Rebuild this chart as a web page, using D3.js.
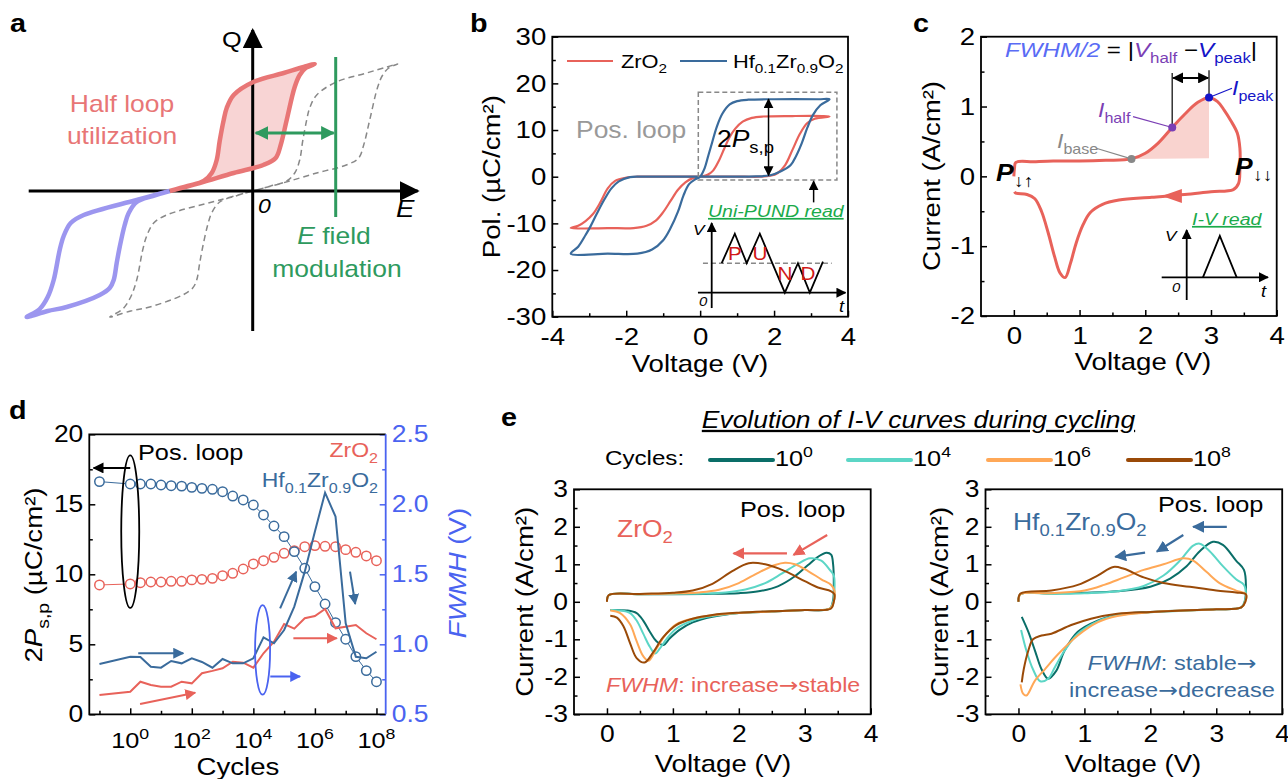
<!DOCTYPE html>
<html lang="en">
<head>
<meta charset="UTF-8">
<title>Half-loop FWHM figure</title>
<script src="https://d3js.org/d3.v7.min.js"></script>
<style>
  body { margin: 0; background: #fff; }
  svg text { font-family: Arial, "Liberation Sans", "DejaVu Sans", sans-serif; }
</style>
</head>
<body>
<svg width="1288" height="779"></svg>
<script>
// ---------------- data ----------------
// panel a : schematic loop (E, Q arbitrary units)
const aRedUp   = [[-8.3,0],[-5.3,0.8],[-1.9,1.8],[1.06,2.6],[2.3,3.3],[2.8,4.6],[3.4,7.1],[4.2,10.4],[4.7,11.6],[5.3,12.3],[6.2,12.7]];
const aRedDown = [[6.2,12.7],[5.1,12.4],[3.1,11.8],[0.06,10.9],[-1.9,9.6],[-2.6,8.3],[-2.9,7.1],[-3.3,5.0],[-3.6,3.1],[-4.1,1.8],[-4.9,1.0],[-6.5,0.5],[-8.3,0]];
const aPurDown = [[-8.3,0],[-11.6,-0.9],[-16.9,-2.4],[-18.2,-3.2],[-18.9,-4.5],[-19.3,-5.9],[-19.9,-8.9],[-20.5,-10.6],[-21.3,-11.8],[-22.6,-12.6]];
const aPurUp   = [[-22.6,-12.6],[-20.5,-12.0],[-18.6,-11.6],[-15.3,-10.4],[-14.3,-9.7],[-13.9,-8.9],[-13.6,-7.2],[-13.3,-5.6],[-12.8,-3.4],[-12.4,-2.2],[-11.6,-1.1],[-10.0,-0.5],[-8.3,0]];
const aShift = 8.3;          // modulated loop offset
const aFieldE = 8.3;         // E field line
const aFieldQ = [-2.6, 13.4];
const aArrowQ = 5.8;
const aAxisE = [-22.4, 16.5];
const aAxisQ = [-14, 16.1];

// panel b : P-V loops (V, uC/cm2)
const bZrO2 = [[0,0],[0.6,0],[1.2,0],[1.6,0],[1.9,0.2],[2.1,0.8],[2.3,2.5],[2.5,5.8],[2.7,9.2],[2.9,11.5],[3.1,12.4],[3.5,12.9],
  [3.3,13],[2.5,13],[1.7,12.9],[1.4,12.6],[1.15,11.8],[0.95,10.3],[0.8,8.5],[0.65,6.0],[0.5,3.3],[0.35,1.3],[0.2,0.4],[0,0],
  [-0.2,-0.3],[-0.4,-1.2],[-0.6,-2.8],[-0.8,-5.2],[-1.0,-7.6],[-1.2,-9.4],[-1.45,-10.5],[-1.8,-11],[-2.5,-11],[-3.5,-11],
  [-3.3,-10.5],[-3.1,-9.5],[-2.9,-8],[-2.7,-5.5],[-2.5,-2.5],[-2.3,-0.9],[-2.0,-0.2],[-1.7,0],[-1,0],[0,0]];
const bHZO = [[0,0],[0.8,0],[1.5,0.05],[1.9,0.3],[2.2,1.2],[2.45,2.5],[2.6,4.5],[2.75,7.2],[2.9,10.5],[3.05,13.2],[3.25,15.3],[3.5,16.6],
  [3.2,16.6],[2.0,16.6],[1.3,16.5],[1.0,16.2],[0.8,15.5],[0.6,13.5],[0.45,10.7],[0.33,7.5],[0.22,4.5],[0.12,1.8],[0,0],
  [-0.12,-0.5],[-0.3,-1.6],[-0.45,-4],[-0.6,-7.5],[-0.8,-11],[-1.0,-13.6],[-1.3,-15.6],[-1.7,-16.5],[-2.5,-16.5],[-3.5,-16.5],
  [-3.3,-15],[-3.1,-12.5],[-2.97,-10.7],[-2.8,-8],[-2.6,-5],[-2.4,-2.5],[-2.2,-1],[-1.9,-0.1],[-1.6,0],[-0.8,0],[0,0]];
const bBoxV = [-0.05, 3.7], bBoxP = [-0.7, 18.1];
const bPspV = 1.85, bPspP = [0.3, 16.6];
const bReadV = 3.07, bReadP = [-5.5, -1.0];
// PUND pulse inset (t, V arbitrary)
const pundT = [0.8, 1.85, 2.8, 3.85, 5.85, 6.9, 7.85, 8.9];
const pundV = [1, 2, 1, 2, 0, 1, 0, 1.05];
const pundLbl = ["P", "U", "N", "D"];
const pundLblT = [1.86, 3.86, 5.86, 7.7];
const pundLblV = [1.1, 1.1, 0.43, 0.43];

// panel c : single I-V read (V, A/cm2)
const cIV = [[0,0],[0.01,0.12],[0.03,0.2],[0.3,0.21],[0.6,0.22],[1.0,0.22],[1.4,0.23],[1.79,0.25],[2.0,0.33],[2.2,0.48],[2.41,0.70],
  [2.6,0.89],[2.8,1.06],[2.97,1.13],[3.1,1.07],[3.2,0.95],[3.3,0.8],[3.4,0.62],[3.44,0.4],[3.44,0.1],[3.42,-0.1],[3.34,-0.19],
  [3.0,-0.22],[2.6,-0.26],[2.1,-0.3],[1.6,-0.34],[1.35,-0.4],[1.16,-0.52],[1.05,-0.7],[0.95,-0.95],[0.86,-1.25],[0.78,-1.45],
  [0.7,-1.38],[0.62,-1.15],[0.52,-0.8],[0.42,-0.5],[0.32,-0.32],[0.2,-0.26],[0.03,-0.24],[0.01,-0.22]];
const cShade = [[1.79,0.25],[2.0,0.33],[2.2,0.48],[2.41,0.70],[2.6,0.89],[2.8,1.06],[2.97,1.13],[2.97,0.26]];
const cBase = [1.79, 0.25], cHalf = [2.41, 0.70], cPeak = [2.97, 1.13];
const cArrow = [2.42, -0.28];
const pulseCT = [1.3, 2.65, 4.0], pulseCV = [0, 1.4, 0];

// panel d : endurance (log10 cycles)
const dLog = [-1,0,0.33,0.67,1,1.33,1.67,2,2.33,2.67,3,3.33,3.67,4,4.33,4.67,5,5.33,5.67,6,6.33,6.67,7,7.33,7.67,8];
const dPspZr = [9.24,9.31,9.4,9.45,9.45,9.5,9.5,9.6,9.64,9.71,9.9,10.07,10.38,10.74,10.97,11.21,11.5,11.69,11.97,12.05,12.0,11.97,11.76,11.57,11.31,10.97];
const dPspHzo = [16.62,16.45,16.45,16.45,16.38,16.33,16.3,16.21,16.14,16.07,15.9,15.59,15.31,14.95,14.24,13.45,12.69,11.62,10.43,9.12,7.88,6.55,5.36,4.12,3.12,2.33];
const dFwhmZr = [0.638,0.661,0.733,0.709,0.697,0.697,0.733,0.721,0.793,0.81,0.829,0.876,0.869,0.833,0.936,1.019,1.145,1.112,1.186,1.202,1.252,1.114,1.126,1.138,1.079,1.036];
const dFwhmHzo = [0.859,0.911,0.909,0.84,0.833,0.881,0.864,0.9,0.874,0.833,0.895,0.864,0.864,0.9,1.05,1.007,1.102,1.269,1.519,1.805,2.083,1.912,1.15,0.911,0.9,0.947];

// panel e : I-V curves vs cycling
const eCycles = ["0", "4", "6", "8"];
const eZr = [
  [[0,0],[0.03,0.18],[0.5,0.2],[1.0,0.2],[1.5,0.21],[2.0,0.23],[2.3,0.28],[2.6,0.42],[2.85,0.68],[3.05,0.98],[3.2,1.2],[3.33,1.31],[3.4,1.26],[3.43,1.0],[3.44,0.5],[3.43,0.05],[3.38,-0.18],[3.0,-0.22],[2.5,-0.26],[2.0,-0.3],[1.6,-0.4],[1.3,-0.55],[1.1,-0.75],[0.95,-0.98],[0.86,-1.15],[0.75,-1.05],[0.65,-0.8],[0.55,-0.5],[0.45,-0.3],[0.3,-0.23],[0.05,-0.22]],
  [[0,0],[0.03,0.18],[0.5,0.2],[1.0,0.21],[1.5,0.22],[1.8,0.25],[2.1,0.33],[2.4,0.5],[2.65,0.75],[2.9,1.02],[3.08,1.16],[3.25,1.1],[3.38,0.85],[3.44,0.7],[3.45,0.3],[3.43,0.0],[3.38,-0.18],[3.0,-0.22],[2.5,-0.26],[2.0,-0.3],[1.6,-0.38],[1.3,-0.5],[1.05,-0.72],[0.9,-1.0],[0.8,-1.25],[0.73,-1.38],[0.65,-1.2],[0.55,-0.85],[0.45,-0.5],[0.35,-0.3],[0.2,-0.23],[0.05,-0.22]],
  [[0,0],[0.03,0.18],[0.5,0.2],[1.0,0.22],[1.4,0.25],[1.7,0.32],[2.0,0.5],[2.3,0.78],[2.55,0.98],[2.7,1.04],[2.85,1.0],[3.05,0.82],[3.25,0.6],[3.4,0.45],[3.45,0.3],[3.44,0.0],[3.38,-0.18],[3.0,-0.22],[2.5,-0.26],[2.0,-0.3],[1.6,-0.36],[1.3,-0.45],[1.05,-0.6],[0.9,-0.85],[0.75,-1.25],[0.63,-1.57],[0.55,-1.45],[0.45,-1.05],[0.35,-0.6],[0.2,-0.3],[0.05,-0.23]],
  [[0,0],[0.03,0.18],[0.5,0.21],[1.0,0.24],[1.3,0.3],[1.6,0.48],[1.9,0.82],[2.15,1.03],[2.4,1.0],[2.7,0.82],[3.0,0.55],[3.2,0.38],[3.4,0.28],[3.45,0.2],[3.44,0.0],[3.4,-0.18],[3.0,-0.22],[2.5,-0.25],[2.0,-0.29],[1.6,-0.35],[1.3,-0.45],[1.05,-0.62],[0.85,-0.95],[0.7,-1.35],[0.57,-1.62],[0.45,-1.5],[0.35,-1.1],[0.25,-0.65],[0.15,-0.42],[0.05,-0.37]]
];
const eHzo = [
  [[0,0],[0.03,0.2],[0.5,0.22],[1.0,0.24],[1.5,0.28],[2.0,0.4],[2.3,0.62],[2.55,0.95],[2.75,1.35],[2.95,1.6],[3.1,1.52],[3.3,1.1],[3.42,0.85],[3.45,0.4],[3.43,0.0],[3.38,-0.15],[3.0,-0.2],[2.5,-0.23],[2.0,-0.27],[1.5,-0.35],[1.2,-0.5],[0.9,-0.8],[0.7,-1.3],[0.57,-1.85],[0.45,-2.05],[0.35,-1.8],[0.25,-1.3],[0.15,-0.8],[0.05,-0.4]],
  [[0,0],[0.03,0.2],[0.5,0.21],[1.0,0.23],[1.5,0.28],[1.9,0.42],[2.2,0.7],[2.45,1.1],[2.65,1.5],[2.75,1.55],[2.9,1.35],[3.1,0.95],[3.3,0.6],[3.42,0.45],[3.45,0.2],[3.43,0.0],[3.38,-0.15],[3.0,-0.2],[2.5,-0.24],[2.0,-0.28],[1.5,-0.36],[1.2,-0.52],[0.9,-0.85],[0.7,-1.3],[0.55,-1.75],[0.45,-2.05],[0.33,-2.12],[0.22,-1.8],[0.12,-1.3],[0.04,-0.75]],
  [[0,0],[0.03,0.2],[0.5,0.23],[1.0,0.3],[1.3,0.45],[1.6,0.65],[1.9,0.85],[2.2,1.0],[2.5,1.16],[2.65,1.1],[2.85,0.8],[3.05,0.5],[3.3,0.3],[3.45,0.2],[3.44,0.0],[3.38,-0.15],[3.0,-0.2],[2.5,-0.23],[2.0,-0.28],[1.5,-0.38],[1.2,-0.55],[0.9,-0.9],[0.6,-1.4],[0.4,-1.8],[0.25,-2.1],[0.12,-2.5],[0.07,-2.45],[0.03,-2.2]],
  [[0,0],[0.03,0.22],[0.5,0.3],[0.9,0.45],[1.2,0.7],[1.44,0.93],[1.6,0.88],[1.9,0.65],[2.2,0.5],[2.6,0.4],[3.0,0.3],[3.3,0.25],[3.45,0.2],[3.44,0.0],[3.38,-0.15],[3.0,-0.2],[2.5,-0.23],[2.0,-0.27],[1.5,-0.32],[1.1,-0.45],[0.8,-0.62],[0.5,-0.85],[0.35,-0.9],[0.22,-1.0],[0.15,-1.3],[0.08,-1.8],[0.05,-2.15]]
];

// ---------------- style ----------------
const RED = "#e8625a", HZO = "#3a6b9c", AXB = "#4a63f0";
const eColors = ["#0a6e68", "#5cd6c6", "#ffa857", "#9a4a08"];
const SX = 1.15;   // the source font runs wider than Arial
const fmt = d => String(d);

const svg = d3.select("svg");
const defs = svg.append("defs");
const made = {};
function mk(color, size) {
  const id = "m" + color.replace("#", "") + "_" + size;
  if (!made[id]) {
    made[id] = 1;
    defs.append("marker").attr("id", id).attr("viewBox", "0 0 10 10")
      .attr("refX", 9).attr("refY", 5).attr("markerUnits", "userSpaceOnUse")
      .attr("markerWidth", size).attr("markerHeight", size)
      .attr("orient", "auto-start-reverse")
      .append("path").attr("d", "M0,0L10,5L0,10z").attr("fill", color);
  }
  return `url(#${id})`;
}
function arrow(g, x0, y0, x1, y1, color, w, size, both) {
  const l = g.append("line").attr("x1", x0).attr("y1", y0).attr("x2", x1).attr("y2", y1)
    .attr("stroke", color).attr("stroke-width", w).attr("marker-end", mk(color, size));
  if (both) l.attr("marker-start", mk(color, size));
  return l;
}
// text with sub / superscripts
function rich(g, x, y, parts, o) {
  o = o || {};
  const fs = o.fs || 20;
  const t = g.append("text").attr("x", x).attr("y", y).attr("font-size", fs)
    .attr("fill", o.fill || "#000").attr("text-anchor", o.anchor || "start");
  if (o.rot) t.attr("transform", `rotate(-90,${x},${y})`);
  if (o.italic) t.attr("font-style", "italic");
  if (o.bold) t.attr("font-weight", "bold");
  if (o.under) t.style("text-decoration", "underline");
  let prev = 0;
  parts.forEach(p => {
    if (typeof p === "string") p = { t: p };
    const shift = p.sub ? 0.28 * fs : p.sup ? -0.42 * fs : 0;
    const s = t.append("tspan").text(p.t).attr("dy", shift - prev);
    prev = shift;
    if (p.sub || p.sup) s.attr("font-size", (p.fs || 0.7) * fs);
    if (p.i) s.attr("font-style", "italic");
    if (p.b) s.attr("font-weight", "bold");
    if (p.fill) s.attr("fill", p.fill);
    if (p.ff) s.style("font-family", p.ff);
  });
  return t;
}
const ARR = { t: "→", ff: "DejaVu Sans" };
const hzoParts = ["Hf", { t: "0.1", sub: 1 }, "Zr", { t: "0.9", sub: 1 }, "O", { t: "2", sub: 1 }];
const zrParts = ["ZrO", { t: "2", sub: 1 }];

// boxed axes with inward ticks
function boxAxes(g, x, y, o) {
  const [x0, x1] = x.range(), [yb, yt] = y.range();
  const fs = o.fs || 24;
  const gx = g.append("g").attr("transform", `translate(0,${yb})`)
    .call(d3.axisBottom(x).tickValues(o.xMajor).tickSize(-6).tickPadding(o.xPad || 11).tickFormat(o.xFmt || fmt));
  gx.append("g").call(d3.axisBottom(x).tickValues(o.xMinor).tickSize(-3.5).tickFormat(""));
  const gy = g.append("g").attr("transform", `translate(${x0},0)`)
    .call(d3.axisLeft(y).tickValues(o.yMajor).tickSize(-6).tickPadding(6).tickFormat(o.yFmt || fmt));
  gy.append("g").call(d3.axisLeft(y).tickValues(o.yMinor).tickSize(-3.5).tickFormat(""));
  [gx, gy].forEach(a => {
    a.selectAll(".domain").remove();
    a.selectAll("line").attr("stroke-width", 1.5);
    a.selectAll("text").attr("font-size", fs).attr("fill", "#000");
  });
  g.append("rect").attr("x", x0).attr("y", yt).attr("width", x1 - x0).attr("height", yb - yt)
    .attr("fill", "none").attr("stroke", "#000").attr("stroke-width", 1.8);
  return { gx, gy };
}
const lineOf = (x, y, curve) => d3.line().x(d => x(d[0])).y(d => y(d[1])).curve(curve || d3.curveCatmullRom.alpha(0.5));

// panel letters
[["a", 10, 32], ["b", 470, 32], ["c", 913, 32], ["d", 9, 419], ["e", 501, 426]].forEach(([t, x, y]) =>
  svg.append("text").attr("x", x).attr("y", y).attr("font-size", 25).attr("font-weight", "bold").text(t));

// ================= panel a =================
{
  const g = svg.append("g");
  const xa = d3.scaleLinear().domain([-10, 10]).range([152.7, 352.7]);
  const ya = d3.scaleLinear().domain([-10, 10]).range([291, 91]);
  const la = lineOf(xa, ya);
  const shifted = aPurDown.concat(aPurUp.slice(1), aRedUp.slice(1), aRedDown.slice(1)).map(d => [d[0] + aShift, d[1]]);
  g.append("path").attr("d", la(shifted)).attr("fill", "none").attr("stroke", "#888")
    .attr("stroke-width", 1.5).attr("stroke-dasharray", "6,4");
  g.append("path").attr("d", la(aRedUp.concat(aRedDown.slice(1)))).attr("fill", "#f8d4d4").attr("stroke", "none");
  // axes
  arrow(g, xa(aAxisE[0]), ya(0), xa(aAxisE[1]), ya(0), "#000", 3, 20);
  arrow(g, xa(0), ya(aAxisQ[0]), xa(0), ya(aAxisQ[1]), "#000", 3, 20);
  g.append("path").attr("d", la(aRedUp.concat(aRedDown.slice(1)))).attr("fill", "none")
    .attr("stroke", "#e87676").attr("stroke-width", 4.5).attr("stroke-linejoin", "round");
  g.append("path").attr("d", la(aPurDown.concat(aPurUp.slice(1)))).attr("fill", "none")
    .attr("stroke", "#9c96ef").attr("stroke-width", 4.5).attr("stroke-linejoin", "round");
  g.append("line").attr("x1", xa(aFieldE)).attr("x2", xa(aFieldE)).attr("y1", ya(aFieldQ[0])).attr("y2", ya(aFieldQ[1]))
    .attr("stroke", "#2e9a5e").attr("stroke-width", 3);
  arrow(g, xa(0.3), ya(aArrowQ), xa(aFieldE - 0.2), ya(aArrowQ), "#2e9a5e", 3, 14, true);
  g.append("text").attr("x", 222).attr("y", 47).attr("font-size", 22).text("Q");
  g.append("text").attr("x", 396).attr("y", 217).attr("font-size", 24).attr("font-style", "italic").text("E");
  g.append("text").attr("x", 258).attr("y", 213).attr("font-size", 20).attr("font-style", "italic").text("0");
  g.append("text").attr("x", 122).attr("y", 112).attr("font-size", 23).attr("fill", "#e87676").attr("text-anchor", "middle").text("Half loop");
  g.append("text").attr("x", 122).attr("y", 144).attr("font-size", 23).attr("fill", "#e87676").attr("text-anchor", "middle").text("utilization");
  rich(g, 334, 244, [{ t: "E", i: 1 }, " field"], { fs: 23, fill: "#2e9a5e", anchor: "middle" });
  g.append("text").attr("x", 337).attr("y", 277).attr("font-size", 23).attr("fill", "#2e9a5e").attr("text-anchor", "middle").text("modulation");
}

// ================= panel b =================
{
  const g = svg.append("g");
  const xb = d3.scaleLinear().domain([-4, 4]).range([552.3, 848]);
  const yb = d3.scaleLinear().domain([-30, 30]).range([316.7, 36.7]);
  boxAxes(g, xb, yb, { xMajor: [-4, -2, 0, 2, 4], xMinor: [-3, -1, 1, 3],
    yMajor: [-30, -20, -10, 0, 10, 20, 30], yMinor: [-25, -15, -5, 5, 15, 25] });
  const lb = lineOf(xb, yb);
  g.append("path").attr("d", lb(bZrO2)).attr("fill", "none").attr("stroke", RED).attr("stroke-width", 2.2);
  g.append("path").attr("d", lb(bHZO)).attr("fill", "none").attr("stroke", HZO).attr("stroke-width", 2.2);
  // dashed box + annotations
  g.append("rect").attr("x", xb(bBoxV[0])).attr("y", yb(bBoxP[1])).attr("width", xb(bBoxV[1]) - xb(bBoxV[0]))
    .attr("height", yb(bBoxP[0]) - yb(bBoxP[1])).attr("fill", "none").attr("stroke", "#888")
    .attr("stroke-width", 1.5).attr("stroke-dasharray", "5,3");
  arrow(g, xb(bPspV), yb(bPspP[0]), xb(bPspV), yb(bPspP[1]), "#000", 1.5, 10, true);
  arrow(g, xb(bReadV), yb(bReadP[0]), xb(bReadV), yb(bReadP[1]), "#000", 1.5, 10);
  rich(g, 717, 147, ["2", { t: "P", i: 1 }, { t: "s,p", sub: 1 }], { fs: 23 });
  g.append("text").attr("x", 576).attr("y", 138).attr("font-size", 23).attr("fill", "#999").text("Pos. loop");
  // legend
  g.append("line").attr("x1", 567).attr("x2", 613).attr("y1", 61).attr("y2", 61).attr("stroke", RED).attr("stroke-width", 2.2);
  rich(g, 621, 68, zrParts, { fs: 19 });
  g.append("line").attr("x1", 680).attr("x2", 727).attr("y1", 61).attr("y2", 61).attr("stroke", HZO).attr("stroke-width", 2.2);
  rich(g, 733, 68, hzoParts, { fs: 19 });
  // PUND inset
  const xt = d3.scaleLinear().domain([0, 1]).range([711.7, 724.2]);
  const yv = d3.scaleLinear().domain([0, 1]).range([292.7, 263.2]);
  rich(g, 708, 217, ["Uni-PUND read"], { fs: 17, fill: "#1aaa4a", italic: 1, under: 1 });
  g.append("line").attr("x1", xt(-0.7)).attr("x2", xt(9.6)).attr("y1", yv(1)).attr("y2", yv(1))
    .attr("stroke", "#888").attr("stroke-width", 1.5).attr("stroke-dasharray", "5,3");
  arrow(g, xt(-1.1), yv(0), xt(10.7), yv(0), "#000", 1.8, 10);
  arrow(g, xt(0), yv(-0.52), xt(0), yv(2.36), "#000", 1.8, 10);
  g.append("path").attr("d", d3.line().x((d, i) => xt(pundT[i])).y(d => yv(d))(pundV))
    .attr("fill", "none").attr("stroke", "#000").attr("stroke-width", 1.8);
  pundLbl.forEach((l, i) => g.append("text").attr("x", xt(pundLblT[i])).attr("y", yv(pundLblV[i]))
    .attr("font-size", 18).attr("fill", "#d01818").attr("text-anchor", "middle").text(l));
  g.append("text").attr("x", 693).attr("y", 235).attr("font-size", 15).attr("font-style", "italic").text("V");
  g.append("text").attr("x", 699).attr("y", 306).attr("font-size", 13).attr("font-style", "italic").text("0");
  g.append("text").attr("x", 839).attr("y", 312).attr("font-size", 16).attr("font-style", "italic").text("t");
  // labels
  rich(g, 500, 176.7, ["Pol. (µC/cm²)"], { fs: 24, rot: 1, anchor: "middle" });
  g.append("text").attr("x", 700).attr("y", 372).attr("font-size", 24).attr("text-anchor", "middle").text("Voltage (V)");
}

// ================= panel c =================
{
  const g = svg.append("g");
  const xc = d3.scaleLinear().domain([-0.5, 4]).range([981, 1276.7]);
  const yc = d3.scaleLinear().domain([-2, 2]).range([316, 36.7]);
  boxAxes(g, xc, yc, { xMajor: [0, 1, 2, 3, 4], xMinor: [0.5, 1.5, 2.5, 3.5],
    yMajor: [-2, -1, 0, 1, 2], yMinor: [-1.5, -0.5, 0.5, 1.5] });
  g.append("path").attr("d", lineOf(xc, yc, d3.curveLinear)(cShade)).attr("fill", "#f9d3cf");
  g.append("path").attr("d", lineOf(xc, yc)(cIV)).attr("fill", "none").attr("stroke", RED)
    .attr("stroke-width", 3).attr("stroke-linejoin", "round");
  // direction arrowhead
  const [ax, ay] = [xc(cArrow[0]), yc(cArrow[1])];
  g.append("path").attr("d", `M${ax - 11},${ay}L${ax + 9},${ay - 7}L${ax + 9},${ay + 7}Z`).attr("fill", RED);
  // FWHM markers
  g.append("line").attr("x1", xc(cHalf[0])).attr("x2", xc(cHalf[0])).attr("y1", yc(cHalf[1])).attr("y2", yc(1.48))
    .attr("stroke", "#333").attr("stroke-width", 1.5);
  g.append("line").attr("x1", xc(cPeak[0])).attr("x2", xc(cPeak[0])).attr("y1", yc(cPeak[1])).attr("y2", yc(1.52))
    .attr("stroke", "#333").attr("stroke-width", 1.5);
  arrow(g, xc(cHalf[0]) + 1, yc(1.41), xc(cPeak[0]) - 1, yc(1.41), "#000", 2, 11, true);
  g.append("line").attr("x1", 1097).attr("y1", 148.5).attr("x2", xc(cBase[0])).attr("y2", yc(cBase[1])).attr("stroke", "#888").attr("stroke-width", 1.2);
  g.append("line").attr("x1", 1133).attr("y1", 116.7).attr("x2", xc(cHalf[0])).attr("y2", yc(cHalf[1])).attr("stroke", "#7b3fb5").attr("stroke-width", 1.2);
  g.append("line").attr("x1", 1232).attr("y1", 88.3).attr("x2", xc(cPeak[0])).attr("y2", yc(cPeak[1])).attr("stroke", "#1515c8").attr("stroke-width", 1.2);
  g.append("circle").attr("cx", xc(cBase[0])).attr("cy", yc(cBase[1])).attr("r", 4).attr("fill", "#888");
  g.append("circle").attr("cx", xc(cHalf[0])).attr("cy", yc(cHalf[1])).attr("r", 4).attr("fill", "#7b3fb5");
  g.append("circle").attr("cx", xc(cPeak[0])).attr("cy", yc(cPeak[1])).attr("r", 4).attr("fill", "#1515c8");
  rich(g, 1057, 148, [{ t: "I", i: 1 }, { t: "base", sub: 1 }], { fs: 20, fill: "#888" });
  rich(g, 1098, 117, [{ t: "I", i: 1 }, { t: "half", sub: 1 }], { fs: 20, fill: "#7b3fb5" });
  rich(g, 1232, 95, [{ t: "I", i: 1 }, { t: "peak", sub: 1 }], { fs: 20, fill: "#1515c8" });
  rich(g, 1005, 57, [{ t: "FWHM/2", i: 1, fill: "#5a6cf5" }, " = |", { t: "V", i: 1, fill: "#7b3fb5" },
    { t: "half", sub: 1, fill: "#7b3fb5" }, " −", { t: "V", i: 1, fill: "#1515c8" }, { t: "peak", sub: 1, fill: "#1515c8" }, "|"], { fs: 21 });
  rich(g, 996, 181, [{ t: "P", i: 1, b: 1 }, { t: "↓↑", sub: 1, fs: 0.75 }], { fs: 23 });
  rich(g, 1235, 175, [{ t: "P", i: 1, b: 1 }, { t: "↓↓", sub: 1, fs: 0.75 }], { fs: 23 });
  // I-V read inset
  const xt = d3.scaleLinear().domain([0, 1]).range([1186.7, 1199.2]);
  const yv = d3.scaleLinear().domain([0, 1]).range([277.3, 247.8]);
  rich(g, 1192, 225, ["I-V read"], { fs: 17, fill: "#1aaa4a", italic: 1, under: 1 });
  arrow(g, xt(-2), yv(0), xt(6.5), yv(0), "#000", 1.8, 10);
  arrow(g, xt(0), yv(-0.77), xt(0), yv(1.6), "#000", 1.8, 10);
  g.append("path").attr("d", d3.line().x((d, i) => xt(pulseCT[i])).y(d => yv(d))(pulseCV))
    .attr("fill", "none").attr("stroke", "#000").attr("stroke-width", 1.8);
  g.append("text").attr("x", 1165).attr("y", 241).attr("font-size", 15).attr("font-style", "italic").text("V");
  g.append("text").attr("x", 1172).attr("y", 292).attr("font-size", 13).attr("font-style", "italic").text("0");
  g.append("text").attr("x", 1261).attr("y", 297).attr("font-size", 16).attr("font-style", "italic").text("t");
  rich(g, 940, 176, ["Current (A/cm²)"], { fs: 24, rot: 1, anchor: "middle" });
  g.append("text").attr("x", 1143).attr("y", 370).attr("font-size", 24).attr("text-anchor", "middle").text("Voltage (V)");
}

// ================= panel d =================
{
  const g = svg.append("g");
  const xd = d3.scaleLog().domain([Math.pow(10, -1.33), Math.pow(10, 8.3)]).range([89.3, 385.7]);
  const yL = d3.scaleLinear().domain([0, 20]).range([714.3, 434.3]);
  const yR = d3.scaleLinear().domain([0.5, 2.5]).range([714.3, 434.3]);
  const X = v => xd(Math.pow(10, v));
  const gx = g.append("g").attr("transform", "translate(0,714.3)")
    .call(d3.axisBottom(xd).tickValues([1, 1e2, 1e4, 1e6, 1e8]).tickSize(-6).tickFormat(""));
  gx.append("g").call(d3.axisBottom(xd).tickValues([0.1, 10, 1e3, 1e5, 1e7]).tickSize(-3.5).tickFormat(""));
  [0, 2, 4, 6, 8].forEach(e => rich(g, X(e), 748, ["10", { t: String(e), sup: 1 }], { fs: 22, anchor: "middle" }));
  const gyl = g.append("g").attr("transform", "translate(89.3,0)")
    .call(d3.axisLeft(yL).tickValues([0, 5, 10, 15, 20]).tickSize(-6).tickPadding(6).tickFormat(fmt));
  gyl.append("g").call(d3.axisLeft(yL).tickValues([2.5, 7.5, 12.5, 17.5]).tickSize(-3.5).tickFormat(""));
  const gyr = g.append("g").attr("transform", "translate(385.7,0)")
    .call(d3.axisRight(yR).tickValues([0.5, 1, 1.5, 2, 2.5]).tickSize(-6).tickPadding(6).tickFormat(d3.format(".1f")));
  gyr.append("g").call(d3.axisRight(yR).tickValues([0.75, 1.25, 1.75, 2.25]).tickSize(-3.5).tickFormat(""));
  [gx, gyl, gyr].forEach(a => { a.selectAll(".domain").remove(); a.selectAll("line").attr("stroke-width", 1.5); a.selectAll("text").attr("font-size", 23).attr("fill", "#000"); });
  gyr.selectAll("line").attr("stroke", AXB);
  gyr.selectAll("text").attr("fill", AXB);
  g.append("path").attr("d", "M385.7,434.3H89.3V714.3H385.7").attr("fill", "none").attr("stroke", "#000").attr("stroke-width", 1.8);
  g.append("line").attr("x1", 385.7).attr("x2", 385.7).attr("y1", 434.3).attr("y2", 714.3).attr("stroke", AXB).attr("stroke-width", 1.8);

  const lL = d3.line().x((d, i) => X(dLog[i])).y(d => yL(d));
  const lR = d3.line().x((d, i) => X(dLog[i])).y(d => yR(d));
  g.append("path").attr("d", lL(dPspZr)).attr("fill", "none").attr("stroke", RED).attr("stroke-width", 1);
  g.append("path").attr("d", lL(dPspHzo)).attr("fill", "none").attr("stroke", HZO).attr("stroke-width", 1);
  g.selectAll(".cz").data(dPspZr).enter().append("circle").attr("cx", (d, i) => X(dLog[i])).attr("cy", d => yL(d))
    .attr("r", 4.7).attr("fill", "#fff").attr("stroke", RED).attr("stroke-width", 1.5);
  g.selectAll(".ch").data(dPspHzo).enter().append("circle").attr("cx", (d, i) => X(dLog[i])).attr("cy", d => yL(d))
    .attr("r", 4.7).attr("fill", "#fff").attr("stroke", HZO).attr("stroke-width", 1.5);
  g.append("path").attr("d", lR(dFwhmZr)).attr("fill", "none").attr("stroke", RED).attr("stroke-width", 2);
  g.append("path").attr("d", lR(dFwhmHzo)).attr("fill", "none").attr("stroke", HZO).attr("stroke-width", 2);

  // annotations
  g.append("ellipse").attr("cx", X(0)).attr("cy", yL(13.05)).attr("rx", 9).attr("ry", yL(7.6) - yL(13.05))
    .attr("fill", "none").attr("stroke", "#000").attr("stroke-width", 1.8);
  arrow(g, X(0), yL(17.6), X(-1.19), yL(17.6), "#000", 2, 11);
  g.append("ellipse").attr("cx", X(4.3)).attr("cy", yR(0.96)).attr("rx", 7.5).attr("ry", yR(0.64) - yR(0.96))
    .attr("fill", "none").attr("stroke", AXB).attr("stroke-width", 1.8);
  arrow(g, X(4.55), yR(0.77), X(5.52), yR(0.77), AXB, 2, 11);
  arrow(g, X(0.26), yL(4.36), X(1.72), yL(4.36), HZO, 2, 11);
  arrow(g, X(0.32), yL(0.74), X(2.11), yL(1.54), RED, 2, 11);
  arrow(g, X(4.87), yL(7.57), X(5.39), yL(10.19), HZO, 2, 11);
  arrow(g, X(5.3), yL(5.43), X(6.71), yL(5.43), RED, 2, 11);
  arrow(g, X(7.14), yL(10.19), X(7.31), yL(7.88), HZO, 2, 11);
  g.append("text").attr("x", 138).attr("y", 460).attr("font-size", 22).text("Pos. loop");
  rich(g, 378, 457, zrParts, { fs: 20, fill: RED, anchor: "end" });
  rich(g, 378, 487, hzoParts, { fs: 20, fill: HZO, anchor: "end" });
  rich(g, 42, 575, ["2", { t: "P", i: 1 }, { t: "s,p", sub: 1 }, " (µC/cm²)"], { fs: 24, rot: 1, anchor: "middle" });
  rich(g, 466, 573, [{ t: "FWMH", i: 1 }, " (V)"], { fs: 24, rot: 1, anchor: "middle", fill: AXB });
  g.append("text").attr("x", 238).attr("y", 775).attr("font-size", 24).attr("text-anchor", "middle").text("Cycles");
}

// ================= panel e =================
{
  const g = svg.append("g");
  rich(g, 918.5, 428, ["Evolution of I-V curves during cycling"], { fs: 23, italic: 1, under: 1, anchor: "middle" });
  g.append("text").attr("x", 605).attr("y", 465).attr("font-size", 21).text("Cycles:");
  const legX = [710, 848, 988, 1128];
  eCycles.forEach((c, i) => {
    g.append("line").attr("x1", legX[i]).attr("x2", legX[i] + 63).attr("y1", 460).attr("y2", 460)
      .attr("stroke", eColors[i]).attr("stroke-width", 4).attr("stroke-linecap", "round");
    rich(g, legX[i] + 65, 466, ["10", { t: c, sup: 1 }], { fs: 22 });
  });
  const ye = d3.scaleLinear().domain([-3, 3]).range([714.3, 489.3]);
  const panels = [
    { x: d3.scaleLinear().domain([-0.5, 4]).range([574, 870.7]), data: eZr, lx: 533, cx: 723 },
    { x: d3.scaleLinear().domain([-0.5, 4]).range([985.5, 1282.2]), data: eHzo, lx: 948, cx: 1133 }
  ];
  panels.forEach(p => {
    boxAxes(g, p.x, ye, { fs: 23, xMajor: [0, 1, 2, 3, 4], xMinor: [0.5, 1.5, 2.5, 3.5],
      yMajor: [-3, -2, -1, 0, 1, 2, 3], yMinor: [-2.5, -1.5, -0.5, 0.5, 1.5, 2.5] });
    const le = lineOf(p.x, ye);
    p.data.forEach((c, i) => g.append("path").attr("d", le(c)).attr("fill", "none")
      .attr("stroke", eColors[i]).attr("stroke-width", 2).attr("stroke-linejoin", "round"));
    rich(g, p.lx, 601.8, ["Current (A/cm²)"], { fs: 24, rot: 1, anchor: "middle" });
    g.append("text").attr("x", p.cx).attr("y", 772).attr("font-size", 24).attr("text-anchor", "middle").text("Voltage (V)");
  });
  const [xl, xr] = [panels[0].x, panels[1].x];
  g.append("text").attr("x", 740).attr("y", 517).attr("font-size", 22).text("Pos. loop");
  rich(g, 617, 537, zrParts, { fs: 23, fill: RED });
  arrow(g, xl(2.73), ye(1.29), xl(1.92), ye(1.29), RED, 2.2, 12);
  arrow(g, xl(3.34), ye(1.78), xl(2.83), ye(1.25), RED, 2.2, 12);
  rich(g, 606, 692, [{ t: "FWHM", i: 1 }, ": increase", ARR, "stable"], { fs: 20.2, fill: RED });
  g.append("text").attr("x", 1158).attr("y", 512).attr("font-size", 22).text("Pos. loop");
  rich(g, 1013, 530, hzoParts, { fs: 23, fill: HZO });
  arrow(g, xr(3.16), ye(2.0), xr(2.65), ye(2.0), HZO, 2.2, 12);
  arrow(g, xr(2.5), ye(1.78), xr(2.1), ye(1.34), HZO, 2.2, 12);
  arrow(g, xr(1.92), ye(1.31), xr(1.47), ye(1.2), HZO, 2.2, 12);
  rich(g, 1172, 670, [{ t: "FWHM", i: 1 }, ": stable", ARR], { fs: 20.5, fill: HZO, anchor: "middle" });
  rich(g, 1172, 697, ["increase", ARR, "decrease"], { fs: 20.5, fill: HZO, anchor: "middle" });
}

// widen every label along its own direction, about its anchor point
svg.selectAll("text").each(function () {
  const t = d3.select(this);
  const x = +t.attr("x") || 0, y = +t.attr("y") || 0;
  const tr = t.attr("transform") || "";
  t.attr("transform", `${tr} translate(${x},${y}) scale(${SX},1) translate(${-x},${-y})`);
});
</script>
</body>
</html>
